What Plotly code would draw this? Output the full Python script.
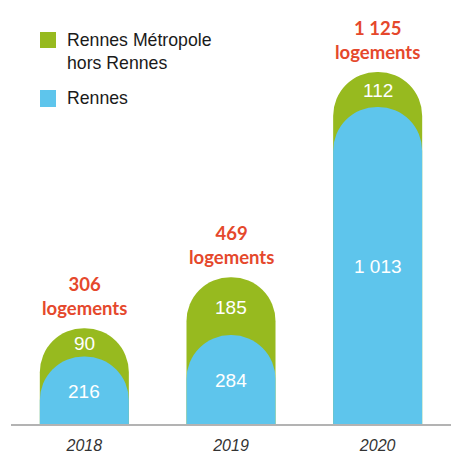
import plotly.graph_objects as go

years = ["2018", "2019", "2020"]
rennes = [216, 284, 1013]
metropole = [90, 185, 112]
legend_names = ["Rennes Métropole", "hors Rennes", "Rennes"]

GREEN = "#97ba1f"
BLUE = "#5ec5ec"
RED = "#e5482c"

# the page body adds 8px around the figure, so the figure is 8px smaller
PAGE_PAD = 8
W, H = 462 - PAGE_PAD, 463 - PAGE_PAD
ML, MR, MT, MB = 11 - PAGE_PAD, 11, 0, 39
PX_PER_UNIT = 0.313
BAR_W = 0.607


def fmt(v):
    return f"{v:,}".replace(",", " ")


def px_x(px):
    return (px - PAGE_PAD - ML) / (W - ML - MR)


def px_y(py):
    return (H - MB - (py - PAGE_PAD)) / (H - MT - MB)


xpos = list(range(len(years)))
totals = [r + m for r, m in zip(rennes, metropole)]

fig = go.Figure()

# green bar from the baseline to the total, blue bar in front of it
# (blue sits on an overlaid x axis so both bars get rounded tops)
fig.add_trace(go.Bar(
    x=xpos, y=totals, width=BAR_W,
    name="Rennes Métropole hors Rennes",
    marker=dict(color=GREEN, cornerradius="50%", line=dict(width=0)),
    hoverinfo="skip",
))
fig.add_trace(go.Bar(
    x=xpos, y=rennes, width=BAR_W, name="Rennes", xaxis="x2",
    marker=dict(color=BLUE, cornerradius="50%", line=dict(width=0)),
    hoverinfo="skip",
))

inner_font = dict(family="Liberation Sans, Arial, sans-serif", size=19, color="white")
red_font = dict(family="Lato, Liberation Sans, sans-serif", size=18.5, color=RED,
                weight="bold")
for i, r, m, t in zip(xpos, rennes, metropole, totals):
    fig.add_annotation(x=i, y=r / 2, text=fmt(r), showarrow=False,
                       font=inner_font, yshift=-1)
    fig.add_annotation(x=i, y=r + m / 2, text=fmt(m), showarrow=False,
                       font=inner_font, yshift=-1)
    fig.add_annotation(x=i, y=t, text=f"{fmt(t)}<br>logements", showarrow=False,
                       yanchor="bottom", yshift=7, font=red_font)

# legend
leg_font = dict(family="Liberation Sans, Arial, sans-serif", size=17.7, color="#1a1a1a")
for (y0, y1), col in [((32, 48), GREEN), ((90, 107), BLUE)]:
    fig.add_shape(type="rect", xref="paper", yref="paper",
                  x0=px_x(40), x1=px_x(56), y0=px_y(y1), y1=px_y(y0),
                  fillcolor=col, line=dict(width=0))
for name, yc in zip(legend_names, [40, 63, 98]):
    fig.add_annotation(xref="paper", yref="paper", x=px_x(65), y=px_y(yc),
                       text=name, showarrow=False, xanchor="left",
                       yanchor="middle", font=leg_font)

fig.update_layout(
    width=W, height=H,
    margin=dict(l=ML, r=MR, t=MT, b=MB),
    barmode="overlay",
    showlegend=False,
    plot_bgcolor="white",
    paper_bgcolor="white",
    xaxis=dict(
        range=[-0.5, 2.5], tickvals=xpos, ticktext=years,
        showline=True, linecolor="#b3b3b3", linewidth=1.5,
        showgrid=False, zeroline=False, ticks="", ticklabelstandoff=6,
        tickfont=dict(family="Liberation Sans, Arial, sans-serif",
                      size=16, color="#333333", style="italic"),
    ),
    xaxis2=dict(range=[-0.5, 2.5], overlaying="x", visible=False),
    yaxis=dict(
        range=[0, (H - MT - MB) / PX_PER_UNIT],
        visible=False, showgrid=False, zeroline=False,
    ),
)

fig.write_html("out.html")
